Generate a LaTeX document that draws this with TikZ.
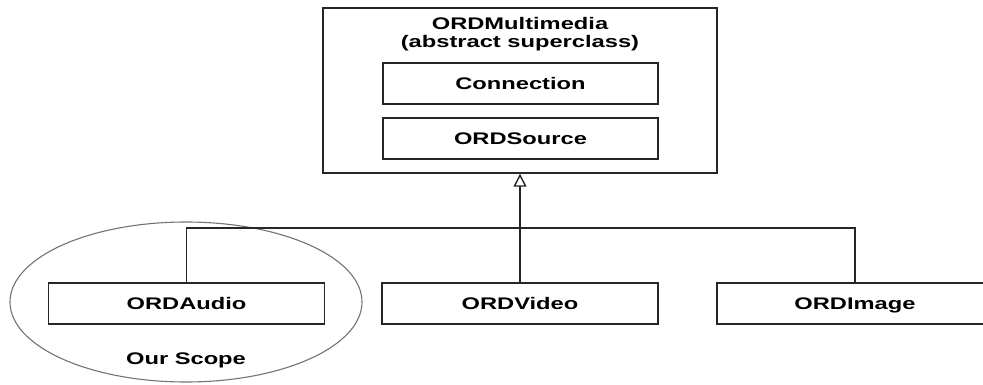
\documentclass[tikz,border=0pt]{standalone}
\usepackage{fontspec}
\setmainfont{Liberation Sans}[FakeStretch=1.41]
\usetikzlibrary{arrows.meta}

\begin{document}
\begin{tikzpicture}[x = 1pt, y = -1pt,
    > = {Triangle[open, length = 13pt, width = 13pt, fill = white]},
    classbox/.style = {draw = black!85, line width = 1.4pt, fill = white,
        minimum width = 276pt, minimum height = 41pt, inner sep = 0pt,
        text height = 14.5pt, text depth = 2pt,
        font = \fontsize{16.8}{18}\selectfont\bfseries},
    linkline/.style = {draw = black!85, line width = 1.4pt}]

        % Fixing the frame of the picture.
        \useasboundingbox (0, 0) rectangle (983, 385);
        \clip (0, 0) rectangle (983, 385);

        % Mark the scope around the audio class.
        \draw[draw = black!55, line width = 1.1pt] (186, 302) ellipse [x radius = 176, y radius = 80];

        % The abstract superclass with its members.
        \node[classbox, minimum width = 394pt, minimum height = 165pt] (media) at (520, 90.5) {};
        \node[align = center, font = \fontsize{16.8}{18}\selectfont\bfseries] (title) at (520, 34) {ORDMultimedia\\(abstract superclass)};
        \node[classbox, minimum width = 275pt] (conn) at (520.5, 83.5) {Connection};
        \node[classbox, minimum width = 275pt] (source) at (520.5, 138.5) {ORDSource};

        % The subclasses.
        \node[classbox] (audio) at (186.5, 303.5) {ORDAudio};
        \node[classbox] (video) at (520, 303.5) {ORDVideo};
        \node[classbox] (image) at (855, 303.5) {ORDImage};
        \node[font = \fontsize{16.8}{18}\selectfont\bfseries] (scope) at (186, 360) {Our Scope};

        % Inheritance lines.
        \coordinate (bus) at (520, 228);
        \draw[linkline] (audio.north) |- (bus) -| (image.north);
        \draw[linkline, ->] (video.north) to (media.south);
    \end{tikzpicture}
\end{document}
